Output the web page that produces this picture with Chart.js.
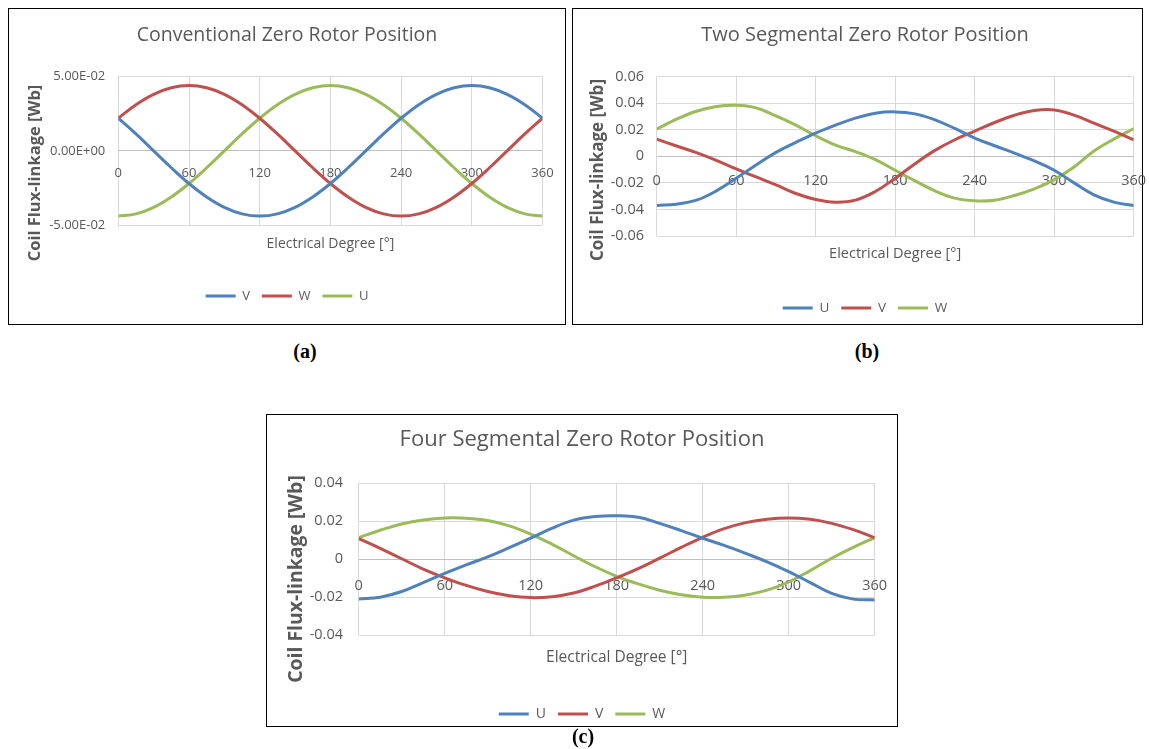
<!DOCTYPE html>
<html>
<head>
<meta charset="utf-8">
<script src="https://cdn.jsdelivr.net/npm/chart.js@4.4.1/dist/chart.umd.min.js"></script>
<style>
    body { margin: 0; background: #fff; width: 1149px; height: 749px; position: relative; overflow: hidden; }
    .box { position: absolute; border: 1px solid #000; }
    .box canvas { position: absolute; left: 0; top: 0; }
    .caption { position: absolute; transform: translateX(-50%); font: bold 20px 'Liberation Serif', 'Times New Roman', serif; line-height: 22px; color: #000; }
</style>
</head>
<body>
<div class="box" style="left:8px;top:8px;width:556px;height:315px"><canvas id="chart1" width="556" height="315"></canvas></div>
<div class="box" style="left:572px;top:8px;width:569px;height:315px"><canvas id="chart2" width="584" height="315"></canvas></div>
<div class="box" style="left:266px;top:414px;width:630px;height:311px"><canvas id="chart3" width="630" height="320"></canvas></div>
<div class="caption" style="left:305px;top:340px">(a)</div>
<div class="caption" style="left:867px;top:340px">(b)</div>
<div class="caption" style="left:583px;top:725px">(c)</div>
<script>
Chart.defaults.font.family = "'Open Sans', sans-serif"
Chart.defaults.color = '#595959'

const degrees = [0, 15, 30, 45, 60, 75, 90, 105, 120, 135, 150, 165, 180, 195, 210, 225, 240, 255, 270, 285, 300, 315, 330, 345, 360]
const degreeTicks = [0, 60, 120, 180, 240, 300, 360]

const convTicks = [-0.05, 0, 0.05]
const convV = [0.022, 0.0114, 0, -0.0114, -0.022, -0.0311, -0.0381, -0.0425, -0.044, -0.0425, -0.0381, -0.0311, -0.022, -0.0114, 0, 0.0114, 0.022, 0.0311, 0.0381, 0.0425, 0.044, 0.0425, 0.0381, 0.0311, 0.022]
const convW = [0.022, 0.0311, 0.0381, 0.0425, 0.044, 0.0425, 0.0381, 0.0311, 0.022, 0.0114, 0, -0.0114, -0.022, -0.0311, -0.0381, -0.0425, -0.044, -0.0425, -0.0381, -0.0311, -0.022, -0.0114, 0, 0.0114, 0.022]
const convU = [-0.044, -0.0425, -0.0381, -0.0311, -0.022, -0.0114, 0, 0.0114, 0.022, 0.0311, 0.0381, 0.0425, 0.044, 0.0425, 0.0381, 0.0311, 0.022, 0.0114, 0, -0.0114, -0.022, -0.0311, -0.0381, -0.0425, -0.044]

const twoTicks = [-0.06, -0.04, -0.02, 0, 0.02, 0.04, 0.06]
const twoU = [-0.037, -0.036, -0.033, -0.026, -0.0165, -0.0065, 0.003, 0.0105, 0.0175, 0.0235, 0.0288, 0.0325, 0.0335, 0.032, 0.0275, 0.021, 0.0138, 0.008, 0.0025, -0.0035, -0.0105, -0.02, -0.029, -0.0345, -0.037]
const twoV = [0.013, 0.0078, 0.0028, -0.003, -0.0095, -0.0155, -0.0215, -0.028, -0.0325, -0.0345, -0.033, -0.0265, -0.0165, -0.0055, 0.0045, 0.0125, 0.019, 0.0255, 0.031, 0.0345, 0.035, 0.031, 0.025, 0.019, 0.0125]
const twoW = [0.0205, 0.028, 0.034, 0.0375, 0.0385, 0.0365, 0.0305, 0.0235, 0.0155, 0.0085, 0.0035, -0.0025, -0.0105, -0.0185, -0.026, -0.0315, -0.0335, -0.033, -0.0295, -0.0245, -0.0175, -0.008, 0.004, 0.013, 0.021]

const fourTicks = [-0.04, -0.02, 0, 0.02, 0.04]
const fourU = [-0.021, -0.02, -0.017, -0.0123, -0.0075, -0.003, 0.0012, 0.006, 0.011, 0.0163, 0.0205, 0.0224, 0.0228, 0.022, 0.0188, 0.015, 0.011, 0.0072, 0.003, -0.0014, -0.0066, -0.0123, -0.018, -0.021, -0.0214]
const fourV = [0.0108, 0.0057, 0.0002, -0.0052, -0.0098, -0.0138, -0.017, -0.0192, -0.0202, -0.0197, -0.0178, -0.0142, -0.0098, -0.005, 0.0005, 0.0062, 0.0115, 0.016, 0.0192, 0.021, 0.0216, 0.0209, 0.0188, 0.0155, 0.0113]
const fourW = [0.0113, 0.0152, 0.0185, 0.0206, 0.0216, 0.0215, 0.0203, 0.0175, 0.0132, 0.0078, 0.0018, -0.004, -0.009, -0.013, -0.0163, -0.0187, -0.02, -0.02, -0.0188, -0.0163, -0.012, -0.006, 0.0005, 0.0062, 0.0113]

const blue = '#4F81BD'
const red = '#C0504D'
const green = '#9BBB59'


const yTitlePlugin = {
    id: 'yTitle',
    afterDraw(chart, args, opts) {
        const ctx = chart.ctx
        ctx.save()
        ctx.translate(opts.x, opts.y)
        ctx.rotate(-Math.PI / 2)
        ctx.font = opts.font
        ctx.fillStyle = '#595959'
        ctx.textAlign = 'center'
        ctx.textBaseline = 'middle'
        ctx.fillText(opts.text, 0, 0)
        ctx.restore()
    }
}

function fixedTicks(values) {
    return scale => { scale.ticks = values.map(value => ({ value })) }
}

function sciLabel(v) {
    const [m, e] = v.toExponential(2).split('e')
    return m + 'E' + (+e < 0 ? '-' : '+') + String(Math.abs(+e)).padStart(2, '0')
}

function decLabel(v) {
    return v === 0 ? '0' : v.toFixed(2)
}

function printFluxChart(id, title, series, yTicks, yLabel, geo) {

    const titleLh = geo.titleSize * 1.2
    const titlePadTop = geo.titleY - titleLh / 2
    const titlePadBottom = geo.area.t - titlePadTop - titleLh
    const legendPadding = 12
    const legendHeight = geo.legendSize + legendPadding + 10
    const legendPadBottom = geo.h - geo.legendY - 10 - geo.legendSize / 2
    const legendTop = geo.h - legendPadBottom - legendHeight
    const xAxisHeight = legendTop - geo.area.b
    const xTitlePad = legendTop - geo.xTitleY - geo.xTitleSize * 0.6
    const xTickPad = geo.xTickOffset - geo.tickSize * 0.6

    const data = {
        datasets: series.map(s => ({
            label: s.label,
            data: degrees.map((d, i) => ({ x: d, y: s.values[i] })),
            xAxisID: 'x',
            yAxisID: 'y',
            borderColor: s.color,
            backgroundColor: s.color,
            borderWidth: 3,
            pointRadius: 0,
            tension: 0.4,
            fill: false
        }))
    }

    const options = {
        responsive: false,
        animation: false,
        layout: {
            padding: { left: 0, top: 0, right: 0, bottom: legendPadBottom }
        },
        plugins: {
            title: {
                display: true,
                text: title,
                color: '#595959',
                font: { size: geo.titleSize, weight: 'normal' },
                padding: { top: titlePadTop, bottom: titlePadBottom }
            },
            legend: {
                position: 'bottom',
                labels: {
                    usePointStyle: true,
                    pointStyle: 'line',
                    pointStyleWidth: 30,
                    padding: legendPadding,
                    color: '#595959',
                    font: { size: geo.legendSize }
                }
            },
            tooltip: { enabled: false },
            yTitle: {
                text: 'Coil Flux-linkage [Wb]',
                x: geo.yTitleX,
                y: geo.yTitleY,
                font: `bold ${geo.yTitleSize}px 'Open Sans', sans-serif`
            }
        },
        scales: {
            x: {
                type: 'linear',
                min: 0,
                max: 360,
                afterBuildTicks: fixedTicks(degreeTicks),
                ticks: { display: false },
                grid: { color: '#d9d9d9', drawTicks: false },
                border: { display: false },
                title: {
                    display: true,
                    text: 'Electrical Degree [°]',
                    color: '#595959',
                    font: { size: geo.xTitleSize },
                    padding: { top: 0, bottom: xTitlePad }
                },
                afterFit: s => { s.height = xAxisHeight }
            },
            x2: {
                type: 'linear',
                axis: 'x',
                position: { y: 0 },
                min: 0,
                max: 360,
                afterBuildTicks: fixedTicks(degreeTicks),
                ticks: { color: '#595959', font: { size: geo.tickSize }, padding: xTickPad, maxRotation: 0, autoSkip: false },
                grid: { display: false, drawTicks: false },
                border: { display: false },
                afterFit: s => { s.paddingLeft = 0; s.paddingRight = 0 }
            },
            y: {
                min: yTicks[0],
                max: yTicks[yTicks.length - 1],
                afterBuildTicks: fixedTicks(yTicks),
                ticks: { callback: yLabel, color: '#595959', font: { size: geo.tickSize }, padding: geo.yTickPad },
                grid: { color: c => c.tick && c.tick.value === 0 ? '#bfbfbf' : '#d9d9d9', drawTicks: false },
                border: { display: false },
                afterFit: s => { s.width = geo.area.l }
            },
            yRight: {
                type: 'linear',
                axis: 'y',
                position: 'right',
                ticks: { display: false },
                grid: { display: false, drawTicks: false },
                border: { display: false },
                afterFit: s => { s.width = geo.w - geo.area.r }
            }
        }
    }

    new Chart(id, { type: 'line', data, options, plugins: [yTitlePlugin] })
}


function printConventionalChart() {
    const series = [
        { label: 'V', values: convV, color: blue },
        { label: 'W', values: convW, color: red },
        { label: 'U', values: convU, color: green }
    ]
    printFluxChart('chart1', 'Conventional Zero Rotor Position', series, convTicks, sciLabel, {
        w: 556, h: 315,
        area: { l: 109.3, r: 533.5, t: 67.7, b: 216 },
        titleY: 26, titleSize: 19.5,
        legendY: 287, legendSize: 13,
        xTitleY: 235, xTitleSize: 14,
        tickSize: 13, xTickOffset: 22.6, yTickPad: 13,
        yTitleX: 26, yTitleY: 164, yTitleSize: 16.5
    })
}

function printTwoSegmentChart() {
    const series = [
        { label: 'U', values: twoU, color: blue },
        { label: 'V', values: twoV, color: red },
        { label: 'W', values: twoW, color: green }
    ]
    printFluxChart('chart2', 'Two Segmental Zero Rotor Position', series, twoTicks, decLabel, {
        w: 584, h: 315,
        area: { l: 83.7, r: 560.7, t: 67.7, b: 227 },
        titleY: 26, titleSize: 20,
        legendY: 299, legendSize: 13.5,
        xTitleY: 245, xTitleSize: 14.5,
        tickSize: 14.5, xTickOffset: 24.5, yTickPad: 12.7,
        yTitleX: 25, yTitleY: 161, yTitleSize: 17
    })
}

function printFourSegmentChart() {
    const series = [
        { label: 'U', values: fourU, color: blue },
        { label: 'V', values: fourV, color: red },
        { label: 'W', values: fourW, color: green }
    ]
    printFluxChart('chart3', 'Four Segmental Zero Rotor Position', series, fourTicks, decLabel, {
        w: 630, h: 320,
        area: { l: 91.7, r: 607.7, t: 68, b: 220.3 },
        titleY: 25, titleSize: 22,
        legendY: 299, legendSize: 14,
        xTitleY: 243, xTitleSize: 15.5,
        tickSize: 14.5, xTickOffset: 27, yTickPad: 15.7,
        yTitleX: 29, yTitleY: 164, yTitleSize: 19.4
    })
}

printConventionalChart()
printTwoSegmentChart()
printFourSegmentChart()
</script>
</body>
</html>
